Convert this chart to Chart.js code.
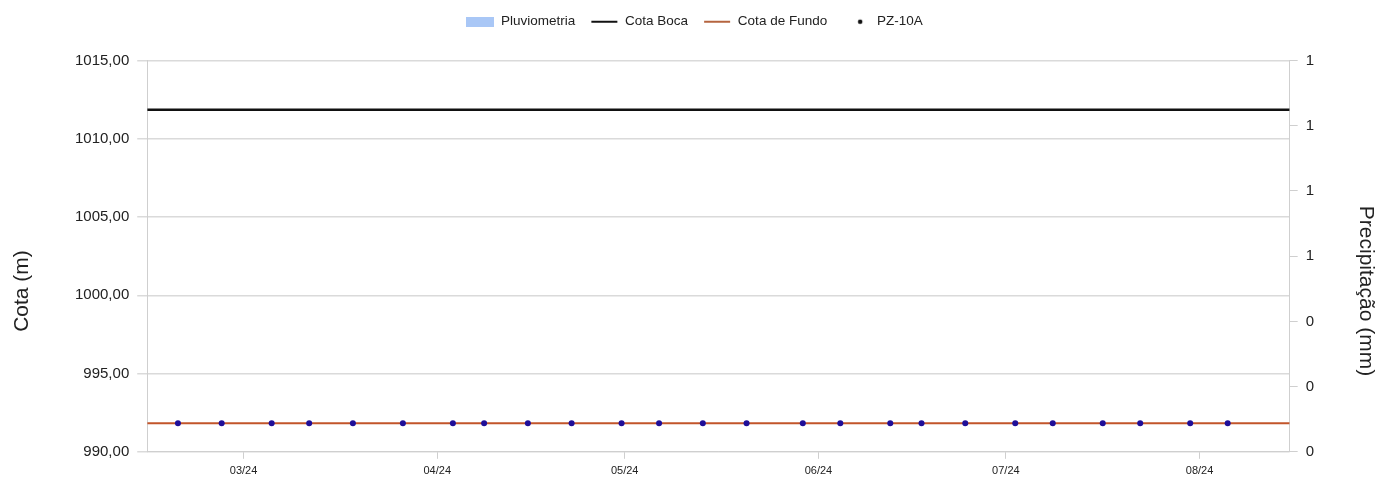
<!DOCTYPE html>
<html>
<head>
<meta charset="utf-8">
<script src="https://cdn.jsdelivr.net/npm/chart.js@4/dist/chart.umd.min.js"></script>
<style>
  html, body { margin: 0; padding: 0; background: #fff; }
  #wrap { width: 1378px; height: 498px; }
</style>
</head>
<body>
<div id="wrap"><canvas id="grafico"></canvas></div>
<script>
// datas das leituras do PZ-10A
const datasLeitura = ['2024-02-19T12', '2024-02-26T12', '2024-03-05T12', '2024-03-11T12', '2024-03-18T12',
	'2024-03-26T12', '2024-04-03T12', '2024-04-08T12', '2024-04-15T12', '2024-04-22T12', '2024-04-30T12',
	'2024-05-06T12', '2024-05-13T12', '2024-05-20T12', '2024-05-29T12', '2024-06-04T12', '2024-06-12T12',
	'2024-06-17T12', '2024-06-24T12', '2024-07-02T12', '2024-07-08T12', '2024-07-16T12', '2024-07-22T12',
	'2024-07-30T12', '2024-08-05T12'];
const pz10a = [991.83, 991.83, 991.83, 991.83, 991.83, 991.83, 991.83, 991.83, 991.83, 991.83,
	991.83, 991.83, 991.83, 991.83, 991.83, 991.83, 991.83, 991.83, 991.83, 991.83,
	991.83, 991.83, 991.83, 991.83, 991.83];
const cotaBoca = 1011.85;
const cotaFundo = 991.83;
const pluviometria = []; // sem chuva registrada no periodo
const meses = ['2024-03-01', '2024-04-01', '2024-05-01', '2024-06-01', '2024-07-01', '2024-08-01'];
const inicio = '2024-02-14T14';
const fim = '2024-08-15T10';
const tituloEsq = 'Cota (m)';
const tituloDir = 'Precipitação (mm)';

const ms = (s) => {
	const [d, h] = s.split('T');
	const p = d.split('-').map(Number);
	const hh = h ? Number(h) : 0;
	return Date.UTC(p[0], p[1] - 1, p[2], hh);
};
const xMin = ms(inicio), xMax = ms(fim);
const fonte = "'Liberation Sans', Arial, sans-serif";

// marcadores da legenda
const marcador = (tipo, cor) => {
	const c = document.createElement('canvas');
	c.width = 28; c.height = 10;
	const g = c.getContext('2d');
	g.fillStyle = cor;
	if (tipo === 'box') g.fillRect(0, 0, 28, 10);
	else if (tipo === 'line') g.fillRect(1, 4, 26, 2);
	else { g.beginPath(); g.arc(18, 5, 2.3, 0, Math.PI * 2); g.fill(); }
	return c;
};
const marcadores = [
	marcador('box', '#a9c7f6'),
	marcador('line', '#111'),
	marcador('line', '#b5643f'),
	marcador('dot', '#111')
];

const fundoBranco = {
	id: 'fundoBranco',
	beforeDraw: (chart) => {
		const c = chart.ctx;
		c.save();
		c.fillStyle = '#fff';
		c.fillRect(0, 0, chart.width, chart.height);
		c.restore();
	}
};

// espaco extra abaixo da legenda
const margemLegenda = {
	id: 'margemLegenda',
	beforeInit: (chart) => {
		const fitOrig = chart.legend.fit;
		chart.legend.fit = function () {
			fitOrig.bind(chart.legend)();
			this.height += 22;
		};
	}
};

// titulos dos eixos (deslocados para baixo como no original)
const titulosEixos = {
	id: 'titulosEixos',
	afterDraw: (chart) => {
		const c = chart.ctx;
		c.save();
		c.fillStyle = '#222';
		c.font = '21px ' + fonte;
		c.textAlign = 'center';
		c.textBaseline = 'middle';
		c.translate(22, 291);
		c.rotate(-Math.PI / 2);
		c.fillText(tituloEsq, 0, 0);
		c.restore();
		c.save();
		c.fillStyle = '#222';
		c.font = '21px ' + fonte;
		c.textAlign = 'center';
		c.textBaseline = 'middle';
		c.translate(1366, 291);
		c.rotate(Math.PI / 2);
		c.fillText(tituloDir, 0, 0);
		c.restore();
	}
};

const ctx = document.getElementById('grafico').getContext('2d');
new Chart(ctx, {
	type: 'line',
	data: {
		datasets: [
			{
				type: 'bar',
				label: 'Pluviometria',
				data: pluviometria.map((v, i) => ({ x: ms(datasLeitura[i]), y: v })),
				backgroundColor: '#a9c7f6',
				yAxisID: 'yP',
				order: 4
			},
			{
				label: 'Cota Boca',
				data: [{ x: xMin, y: cotaBoca }, { x: xMax, y: cotaBoca }],
				borderColor: '#111',
				borderWidth: 2.5,
				pointRadius: 0,
				yAxisID: 'y',
				order: 2
			},
			{
				label: 'Cota de Fundo',
				data: [{ x: xMin, y: cotaFundo }, { x: xMax, y: cotaFundo }],
				borderColor: '#c2552a',
				borderWidth: 2,
				pointRadius: 0,
				yAxisID: 'y',
				order: 3
			},
			{
				label: 'PZ-10A',
				data: pz10a.map((v, i) => ({ x: ms(datasLeitura[i]), y: v })),
				showLine: false,
				pointRadius: 3,
				pointStyle: 'circle',
				pointBackgroundColor: '#1f0e98',
				pointBorderColor: '#1f0e98',
				pointBorderWidth: 0,
				yAxisID: 'y',
				order: 1
			}
		]
	},
	options: {
		responsive: true,
		maintainAspectRatio: false,
		animation: false,
		layout: { padding: { top: 0, left: 67, right: 56, bottom: 14 } },
		plugins: {
			tooltip: { enabled: false },
			legend: {
				position: 'top',
				labels: {
					usePointStyle: true,
					pointStyleWidth: 28,
					padding: 15,
					color: '#222',
					font: { family: fonte, size: 13.5 },
					generateLabels: (chart) => chart.data.datasets.map((ds, i) => ({
						text: ds.label,
						pointStyle: marcadores[i],
						datasetIndex: i,
						fontColor: '#222',
						lineWidth: 0,
						strokeStyle: 'transparent',
						fillStyle: 'transparent'
					}))
				}
			}
		},
		scales: {
			x: {
				type: 'linear',
				min: xMin,
				max: xMax,
				offset: false,
				afterBuildTicks: (scale) => {
					scale.ticks = meses.map(m => ({ value: ms(m) }));
				},
				ticks: {
					autoSkip: false,
					maxRotation: 0,
					padding: 6,
					color: '#222',
					font: { family: fonte, size: 11 },
					callback: (v) => {
						const d = new Date(v);
						return String(d.getUTCMonth() + 1).padStart(2, '0') + '/' + String(d.getUTCFullYear()).slice(2);
					}
				},
				grid: { offset: false, drawOnChartArea: false, tickLength: 7, color: '#cfcfcf' },
				border: { color: '#cfcfcf' }
			},
			y: {
				position: 'left',
				min: 990,
				max: 1015,
				ticks: {
					stepSize: 5,
					padding: 8,
					color: '#222',
					font: { family: fonte, size: 15 },
					callback: (v) => v.toFixed(2).replace('.', ',')
				},
				grid: { color: '#dadada', lineWidth: 1.5, tickLength: 10 },
				border: { color: '#cfcfcf' }
			},
			yP: {
				position: 'right',
				min: 0,
				max: 1.2,
				ticks: {
					stepSize: 0.2,
					padding: 8,
					color: '#222',
					font: { family: fonte, size: 15 },
					callback: (v) => String(Math.round(v))
				},
				grid: { drawOnChartArea: false, tickLength: 8, color: '#cfcfcf' },
				border: { color: '#cfcfcf' }
			}
		}
	},
	plugins: [fundoBranco, margemLegenda, titulosEixos]
});
</script>
</body>
</html>
